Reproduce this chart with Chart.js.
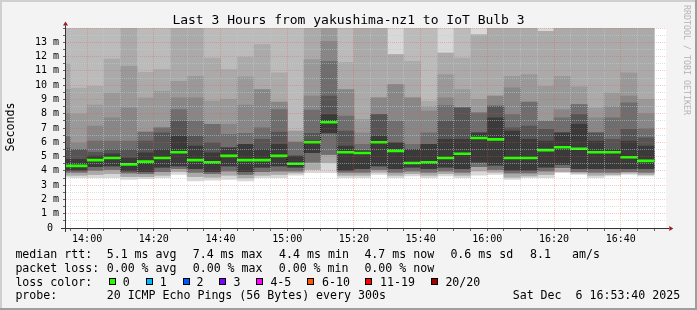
<!DOCTYPE html>
<html><head><meta charset="utf-8">
<script src="https://cdn.jsdelivr.net/npm/chart.js@4/dist/chart.umd.min.js"></script>
<style>
html,body{margin:0;padding:0;background:#f3f3f3;}
#wrap{position:relative;width:697px;height:310px;overflow:hidden;font-family:'DejaVu Sans Mono',monospace;color:#000;}
#c{position:absolute;left:0;top:0;}
.t{position:absolute;white-space:pre;font-size:11.6px;line-height:14px;}
.box{position:absolute;width:5px;height:5px;border:1px solid #000;}
</style></head>
<body>
<div id="wrap">
<canvas id="c" width="697" height="310"></canvas>
<div class="t" style="left:0;top:12px;width:697px;text-align:center;font-size:13px;line-height:15px;">Last 3 Hours from yakushima-nz1 to IoT Bulb 3</div>
<div class="t" style="left:-20px;top:120px;width:60px;text-align:center;transform:rotate(-90deg);">Seconds</div>
<div class="t" style="left:632px;top:55px;width:110px;text-align:center;font-size:8.3px;line-height:10px;color:#b4b4b4;transform:rotate(90deg);">RRDTOOL / TOBI OETIKER</div>
<div id="legend"></div>
</div>
<script>
// ---- data ----
const axisStart = '13:53:40';
const axisEnd   = '16:53:40';
const bucketStart = ['13:50','13:55','14:00','14:05','14:10','14:15','14:20','14:25','14:30','14:35','14:40','14:45',
  '14:50','14:55','15:00','15:05','15:10','15:15','15:20','15:25','15:30','15:35','15:40','15:45',
  '15:50','15:55','16:00','16:05','16:10','16:15','16:20','16:25','16:30','16:35','16:40','16:45'];
const medianRtt = [4.35,4.35,4.75,4.9,4.45,4.65,4.9,5.3,4.75,4.6,5.05,4.75,4.75,5.05,4.5,6.0,7.4,5.3,5.25,6.0,5.4,4.55,4.6,4.9,5.2,6.3,6.2,4.9,4.9,5.45,5.65,5.55,5.3,5.3,4.95,4.7];
// smoke band upper edges (ms), outermost band first
const smokeTop0 = [15,15,15,15,15,15,15,15,15,15,15,15,15,15,15,15,15,15,15,15,15,15,15,15,15,15,15,15,15,15,15,15,15,15,15,15];
const smokeTop1 = [15,15,15,15,15,15,15,15,15,15,15,15,15,15,15,15,15,15,15,15,12.14,15,15,12.25,15,13.53,15,15,15,13.77,15,15,15,15,15,15];
const smokeTop2 = [11.5,9.8,9.92,11.83,15,10.9,11.09,15,15,11.9,11.09,11.97,12.84,10.86,6.78,15,15,11.6,15,15,12.14,11.67,8.88,12.25,11.9,13.53,15,15,15,13.77,15,15,15,15,15,15];
const smokeTop3 = [9.7,8.0,8.6,9.46,11.32,9.11,9.57,10.27,10.62,8.88,9.0,10.58,9.69,8.81,6.78,11.79,15,9.69,7.6,9.11,10.04,9.11,8.5,10.74,9.69,9.0,9.23,10.62,10.74,9.92,10.62,9.88,8.41,9.46,10.86,9.0];
const smokeTop4 = [8.0,5.97,7.13,7.71,8.41,6.71,7.01,9.11,9.11,7.25,7.25,8.6,9.69,8.81,6.01,9.23,13.07,9.69,6.66,9.11,10.04,9.11,8.18,9.11,8.41,8.06,9.23,9.81,8.81,7.48,8.29,8.64,7.71,8.48,9.23,8.01];
const smokeTop5 = [6.4,5.5,6.08,6.08,6.08,6.71,7.01,8.29,7.48,7.25,6.55,6.62,7.01,8.29,6.01,8.25,11.67,7.83,5.85,7.94,7.48,5.85,6.66,8.57,8.41,8.06,8.53,7.94,8.81,7.48,7.71,8.64,6.66,7.71,8.76,6.94];
const smokeTop6 = [5.6,5.5,5.3,5.5,5.5,6.08,6.66,7.48,6.43,5.97,5.62,5.85,6.2,6.71,5.03,6.62,9.23,6.78,5.4,7.94,5.97,5.5,5.85,7.48,8.41,6.66,8.53,7.01,7.13,6.9,6.66,7.94,6.66,6.2,6.9,6.31];
const smokeTop7 = [4.8,4.8,5.03,5.2,4.9,5.27,5.5,6.43,5.73,5.27,5.62,5.85,5.5,5.85,5.03,6.08,7.94,5.73,5.4,6.43,5.97,5.5,5.85,6.2,6.2,6.66,7.71,6.78,6.2,6.08,6.66,7.25,6.08,5.5,6.08,5.73];
// smoke band lower edges (ms)
const smokeLowDark   = [4.05,4.05,4.3,4.35,4.0,3.95,4.25,4.35,4.15,3.95,4.35,3.95,4.25,4.35,4.25,5.27,6.66,4.05,4.15,4.35,4.15,4.25,4.15,4.25,4.15,4.6,4.4,4.05,4.05,4.25,4.45,4.15,4.15,4.15,4.15,4.15];
const smokeLowMid    = [3.9,3.9,4.05,4.1,3.85,3.8,3.95,4.15,3.9,3.8,4.0,3.75,3.95,4.0,4.0,4.6,5.15,3.9,3.9,4.1,3.9,4.0,3.9,4.0,3.9,4.3,4.1,3.85,3.85,4.0,4.22,3.95,3.9,3.9,3.95,3.9];
const smokeLowLight  = [3.7,3.7,3.75,3.8,3.6,3.6,3.7,3.95,3.6,3.55,3.7,3.5,3.7,3.75,3.85,4.1,4.57,3.7,3.7,3.9,3.7,3.8,3.7,3.8,3.7,4.0,3.9,3.55,3.65,3.75,3.95,3.85,3.7,3.75,3.85,3.75];
const smokeLowBottom = [3.55,3.52,3.52,3.52,3.4,3.45,3.52,3.75,3.3,3.35,3.4,3.3,3.52,3.52,3.7,3.87,3.87,3.52,3.52,3.75,3.52,3.64,3.52,3.64,3.52,3.7,3.75,3.4,3.52,3.52,3.87,3.75,3.52,3.64,3.75,3.64];
const yTickMax = 14;
const lossLabels = ['0','1','2','3','4-5','6-10','11-19','20/20'];
const lossColors = ['#26ff00','#00b8ff','#0059ff','#7e00ff','#ff00ff','#ff5500','#ff0000','#a10000'];

// ---- legend text ----
const legendRows = [
  [['median rtt:',15.4],['5.1 ms avg',106.7],['7.4 ms max',192.7],['4.4 ms min',279.1],['4.7 ms now',364.4],['0.6 ms sd',450.4],['8.1   am/s',530.1]],
  [['packet loss:',15.4],['0.00 % avg',106.7],['0.00 % max',192.7],['0.00 % min',278.7],['0.00 % now',364.4]],
  [['loss color:',15.4]],
  [['probe:',15.4],['20 ICMP Echo Pings (56 Bytes) every 300s',106.7],['Sat Dec  6 16:53:40 2025',512.7]]
];
const rowTops = [246.7,260.7,274.7,288.3];
const boxLefts = [109,146,183,219,256,307,365,431];
const lossLabelLefts = [122.7,159.7,196.4,233.4,270.4,322.1,380.1,445.4];
(function(){
  const L = document.getElementById('legend');
  legendRows.forEach((row,r)=>row.forEach(([txt,x])=>{
    const d=document.createElement('div'); d.className='t'; d.textContent=txt;
    d.style.left=x+'px'; d.style.top=rowTops[r]+'px'; L.appendChild(d);
  }));
  lossLabels.forEach((lab,i)=>{
    const b=document.createElement('div'); b.className='box';
    b.style.left=boxLefts[i]+'px'; b.style.top='278px'; b.style.background=lossColors[i]; L.appendChild(b);
    const d=document.createElement('div'); d.className='t'; d.textContent=lab;
    d.style.left=lossLabelLefts[i]+'px'; d.style.top=rowTops[2]+'px'; L.appendChild(d);
  });
})();

// ---- chart ----
const toMin = s => { const p = s.split(':').map(Number); return p[0]*60 + p[1] + (p[2]||0)/60; };
const starts = bucketStart.map(toMin);
const BUCKET = 5;
const bandDefs = [
  [smokeLowBottom, smokeTop0, '#d8d8d8'],
  [smokeLowLight,  smokeTop1, '#bbbbbb'],
  [smokeLowLight,  smokeTop2, '#aaaaaa'],
  [smokeLowMid,    smokeTop3, '#999999'],
  [smokeLowMid,    smokeTop4, '#878787'],
  [smokeLowMid,    smokeTop5, '#6e6e6e'],
  [smokeLowDark,   smokeTop6, '#555555'],
  [smokeLowDark,   smokeTop7, '#3a3a3a']
];
const datasets = bandDefs.map(([lo,hi,col],k)=>({
  type:'bar', order:100-k, grouped:false, barPercentage:1, categoryPercentage:1,
  backgroundColor:col, borderWidth:0,
  data: starts.map((s,i)=>({x:s+BUCKET/2, y:[lo[i],hi[i]]}))
}));
datasets.push({
  type:'line', order:2, stepped:'before', borderColor:'#000', borderWidth:1, borderDash:[1,1],
  pointRadius:0, fill:false,
  data: starts.map((s,i)=>({x:s,y:medianRtt[i]})).concat([{x:starts[starts.length-1]+BUCKET, y:medianRtt[medianRtt.length-1]}])
});
datasets.push({
  type:'bar', order:1, grouped:false, barPercentage:1, categoryPercentage:1,
  backgroundColor:'#26ff00', borderWidth:0,
  data: starts.map((s,i)=>({x:s+BUCKET/2, y:[medianRtt[i]-0.07, medianRtt[i]+0.07]}))
});

const MAJOR='rgba(255,70,70,0.32)', MINOR='rgba(200,200,200,0.55)';
const fmt = v => { const h=Math.floor(v/60), m=Math.round(v%60); return h+':'+(m<10?'0':'')+m; };
const monoFont = {family:"'DejaVu Sans Mono', monospace", size:10};

const frame = {
  id:'frame',
  beforeDraw(chart){
    const {ctx, chartArea:a, width, height} = chart;
    ctx.save();
    ctx.fillStyle='#f3f3f3'; ctx.fillRect(0,0,width,height);
    ctx.fillStyle='#cfcfcf'; ctx.fillRect(0,0,width,2); ctx.fillRect(0,0,2,height);
    ctx.fillStyle='#9e9e9e'; ctx.fillRect(0,height-2,width,2); ctx.fillRect(width-2,0,2,height);
    ctx.fillStyle='#ffffff'; ctx.fillRect(a.left,a.top,a.right-a.left,a.bottom-a.top);
    ctx.restore();
  },
  afterDatasetsDraw(chart){
    const {ctx, chartArea:a, scales} = chart;
    ctx.save();
    ctx.lineWidth=1; ctx.setLineDash([1,1]);
    scales.x.ticks.forEach(t=>{
      const px = Math.round(scales.x.getPixelForValue(t.value)-0.5)+0.5;
      ctx.strokeStyle = (Math.round(t.value) % 20 === 0) ? MAJOR : MINOR;
      ctx.beginPath(); ctx.moveTo(px, a.top); ctx.lineTo(px, a.bottom); ctx.stroke();
    });
    scales.y.ticks.forEach(t=>{
      const py = Math.round(scales.y.getPixelForValue(t.value)-0.5)+0.5;
      ctx.strokeStyle = (Math.abs(t.value - Math.round(t.value)) < 1e-6) ? MAJOR : MINOR;
      ctx.beginPath(); ctx.moveTo(a.left, py); ctx.lineTo(a.right, py); ctx.stroke();
    });
    ctx.restore();
  },
  afterDraw(chart){
    const {ctx, chartArea:a} = chart;
    ctx.save();
    ctx.strokeStyle='#333'; ctx.lineWidth=1;
    ctx.beginPath();
    ctx.moveTo(a.left-0.5, a.bottom+4); ctx.lineTo(a.left-0.5, a.top-2.5);
    ctx.moveTo(a.left-5, a.bottom+0.5); ctx.lineTo(a.right+3, a.bottom+0.5);
    ctx.stroke();
    ctx.fillStyle='#9a1c1c';
    ctx.beginPath();
    ctx.moveTo(a.left-0.5, a.top-6.5); ctx.lineTo(a.left-3, a.top-2.5); ctx.lineTo(a.left+2, a.top-2.5); ctx.closePath(); ctx.fill();
    ctx.beginPath();
    ctx.moveTo(a.right+7, a.bottom+0.5); ctx.lineTo(a.right+3, a.bottom-2); ctx.lineTo(a.right+3, a.bottom+3); ctx.closePath(); ctx.fill();
    ctx.restore();
  }
};

new Chart(document.getElementById('c'), {
  type:'bar',
  data:{datasets},
  options:{
    responsive:false, animation:false, devicePixelRatio:1, events:[],
    layout:{padding:{top:28,right:30.7,left:0,bottom:0}},
    plugins:{legend:{display:false}, title:{display:false}, tooltip:{enabled:false}},
    scales:{
      x:{
        type:'linear', min:toMin(axisStart), max:toMin(axisEnd), offset:false,
        afterBuildTicks: s => { s.ticks = starts.map(v=>v+BUCKET).filter(v=>v>=s.min && v<=s.max).map(v=>({value:v})); },
        afterFit: s => { s.height = 82; },
        grid:{offset:false, drawOnChartArea:false, drawTicks:true, tickLength:3, tickColor:'#666'},
        border:{display:false},
        ticks:{autoSkip:false, maxRotation:0, minRotation:0, padding:2, color:'#000', font:monoFont,
               callback: v => (Math.round(v) % 20 === 0) ? fmt(v) : ''}
      },
      y:{
        min:0, max:yTickMax,
        afterFit: s => { s.width = 66; },
        grid:{drawOnChartArea:false, drawTicks:true, tickLength:3, tickColor:'#666'},
        border:{display:false},
        ticks:{stepSize:0.5, autoSkip:false, padding:4, color:'#000', font:monoFont,
               callback: v => (!Number.isInteger(v) || v >= yTickMax) ? '' : (v === 0 ? '0 ' : v + ' m')}
      }
    }
  },
  plugins:[frame]
});
</script>
</body></html>
